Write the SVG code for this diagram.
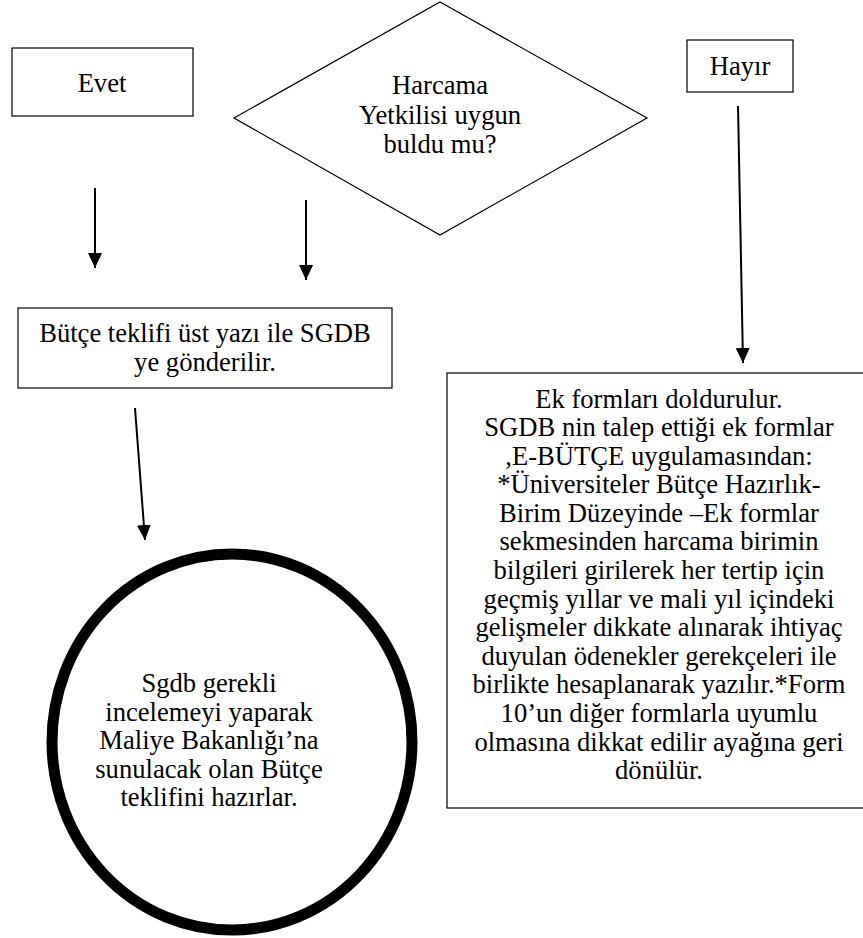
<svg xmlns="http://www.w3.org/2000/svg" width="863" height="938" viewBox="0 0 863 938">
<defs>
<style>
.box{fill:#fff;stroke:#000;stroke-width:1.2}
.t{font-size:26.6px;fill:#000;text-anchor:middle}
.c{stroke:#000;stroke-width:2;fill:none;marker-end:url(#ah)}
</style>
<marker id="ah" markerWidth="15" markerHeight="14" viewBox="0 0 15 14" refX="15" refY="7" orient="auto" markerUnits="userSpaceOnUse">
<path d="M0,0 L15,7 L0,14 z" fill="#000"/>
</marker>
</defs>
<rect width="863" height="938" fill="#fff"/>
<g font-family="'Liberation Serif', 'DejaVu Serif', serif">
<g id="evet">
<rect class="box" x="12" y="48" width="181" height="68"/>
<text class="t" x="102" y="92">Evet</text>
</g>
<g id="karar">
<polygon class="box" points="440,2 647,118 440,235 234,118"/>
<text class="t" x="440" y="94">Harcama</text>
<text class="t" x="440" y="123.5">Yetkilisi uygun</text>
<text class="t" x="440" y="153">buldu mu?</text>
</g>
<g id="hayir">
<rect class="box" x="687" y="40" width="106" height="52"/>
<text class="t" x="740" y="75">Hayır</text>
</g>
<g id="butce">
<rect class="box" x="18" y="308" width="374" height="80"/>
<text class="t" x="205" y="342">Bütçe teklifi üst yazı ile SGDB</text>
<text class="t" x="205" y="370.5">ye gönderilir.</text>
</g>
<g id="sgdb">
<ellipse cx="232" cy="742" rx="180" ry="188" fill="#fff" stroke="#000" stroke-width="11"/>
<text class="t" x="209" y="692">Sgdb gerekli</text>
<text class="t" x="209" y="720.6">incelemeyi yaparak</text>
<text class="t" x="209" y="749.2">Maliye Bakanlığı’na</text>
<text class="t" x="209" y="777.8">sunulacak olan Bütçe</text>
<text class="t" x="209" y="806.4">teklifini hazırlar.</text>
</g>
<g id="ekformlar">
<rect class="box" x="447" y="373" width="420" height="435"/>
<text class="t" x="659" y="407.5">Ek formları doldurulur.</text>
<text class="t" x="659" y="436">SGDB nin talep ettiği ek formlar</text>
<text class="t" x="659" y="464.6">,E-BÜTÇE uygulamasından:</text>
<text class="t" x="659" y="493.2">*Üniversiteler Bütçe Hazırlık-</text>
<text class="t" x="659" y="521.8">Birim Düzeyinde –Ek formlar</text>
<text class="t" x="659" y="550.4">sekmesinden harcama birimin</text>
<text class="t" x="659" y="579">bilgileri girilerek her tertip için</text>
<text class="t" x="659" y="607.6">geçmiş yıllar ve mali yıl içindeki</text>
<text class="t" x="659" y="636.2">gelişmeler dikkate alınarak ihtiyaç</text>
<text class="t" x="659" y="664.8">duyulan ödenekler gerekçeleri ile</text>
<text class="t" x="659" y="693.4">birlikte hesaplanarak yazılır.*Form</text>
<text class="t" x="659" y="722">10’un diğer formlarla uyumlu</text>
<text class="t" x="659" y="750.6">olmasına dikkat edilir ayağına geri</text>
<text class="t" x="659" y="779.2">dönülür.</text>
</g>
</g>
<g id="connectors">
<line class="c" x1="95" y1="188" x2="95" y2="268"/>
<line class="c" x1="306" y1="200" x2="306" y2="280"/>
<line class="c" x1="738" y1="106" x2="743" y2="363"/>
<line class="c" x1="135" y1="408" x2="145" y2="540"/>
</g>
</svg>
